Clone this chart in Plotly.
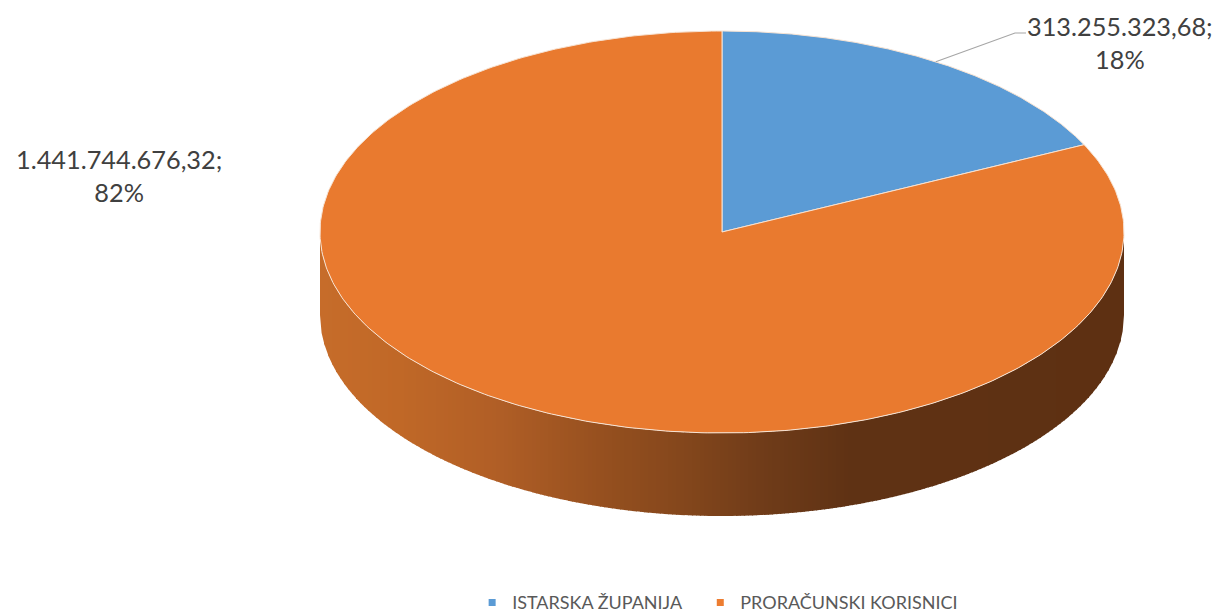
import numpy as np
import plotly.graph_objects as go

categories = ["ISTARSKA ŽUPANIJA", "PRORAČUNSKI KORISNICI"]
values = [313255323.68, 1441744676.32]
top_colors = ["#5B9BD5", "#E97A2F"]
legend_colors = ["#5B9BD5", "#ED7D31"]

# side wall shading (pixel x, colour)
wall_x = [320, 400, 500, 600, 680, 760, 850, 1125]
wall_rgb = [(198, 108, 42), (192, 104, 39), (176, 94, 38), (150, 80, 31),
            (133, 71, 28), (112, 60, 25), (95, 50, 20), (94, 48, 18)]

CX, CY, RX, RY, DEPTH = 722.0, 232.0, 402.0, 201.0, 83.0
W, H = 1220, 615


def ell(theta, dy=0.0):
    """Position on the ellipse; theta is clockwise from 12 o'clock, in radians."""
    return CX + RX * np.sin(theta), CY - RY * np.cos(theta) + dy


def fmt(v):
    s = f"{v:,.2f}"
    return s.replace(",", "X").replace(".", ",").replace("X", ".")


total = sum(values)
fractions = [v / total for v in values]
edges = np.cumsum([0.0] + fractions) * 2 * np.pi

fig = go.Figure()

# side wall: thin vertical strips between the lower rims
step = 4.0
xs = np.arange(CX - RX, CX + RX, step)
for x0 in xs:
    x1 = min(x0 + step + 0.8, CX + RX)
    seg = np.linspace(x0, x1, 4)
    yy = CY + RY * np.sqrt(np.clip(1 - ((seg - CX) / RX) ** 2, 0, 1))
    mid = x0 + step / 2
    rgb = [int(round(np.interp(mid, wall_x, [c[i] for c in wall_rgb]))) for i in range(3)]
    col = f"rgb({rgb[0]},{rgb[1]},{rgb[2]})"
    fig.add_trace(go.Scatter(
        x=np.concatenate([seg, seg[::-1]]),
        y=np.concatenate([yy, (yy + DEPTH)[::-1]]),
        mode="lines", fill="toself", fillcolor=col, line=dict(width=0),
        hoverinfo="skip", showlegend=False))

# top face, one wedge per value
for i, name in enumerate(categories):
    t = np.linspace(edges[i], edges[i + 1], 400)
    ex, ey = ell(t)
    fig.add_trace(go.Scatter(
        x=np.concatenate([[CX], ex, [CX]]), y=np.concatenate([[CY], ey, [CY]]),
        mode="lines", fill="toself", fillcolor=top_colors[i],
        line=dict(color="#F7E3D3", width=1), name=name,
        hovertemplate=f"{name}<br>{fmt(values[i])}<extra></extra>", showlegend=False))

# leader line for the first slice
lx, ly = ell((edges[0] + edges[1]) / 2)
fig.add_trace(go.Scatter(x=[lx, 1015, 1026], y=[ly, 33, 33], mode="lines",
                         line=dict(color="#A6A6A6", width=1.2),
                         hoverinfo="skip", showlegend=False))

# legend entries, one legend each so that their spacing can follow the reference
legend_ids = ["legend", "legend2"]
for name, col, lid in zip(categories, legend_colors, legend_ids):
    fig.add_trace(go.Scatter(x=[None], y=[None], mode="markers", name=name, legend=lid,
                             marker=dict(symbol="square", size=7, color=col)))

label_pos = [(1120, 42), (119, 175)]
for i, (x, y) in enumerate(label_pos):
    fig.add_annotation(x=x, y=y, xref="x", yref="y", showarrow=False,
                       text=f"{fmt(values[i])};<br>{round(fractions[i] * 100)}%",
                       align="center", xanchor="center", yanchor="middle",
                       font=dict(family="Lato", size=25.3, color="#404040"))

legend_font = dict(family="Lato", size=18, color="#595959")
fig.update_layout(
    width=W, height=H, autosize=False,
    margin=dict(l=0, r=0, t=0, b=0, autoexpand=False),
    paper_bgcolor="white", plot_bgcolor="white",
    xaxis=dict(range=[0, W], visible=False, fixedrange=True),
    yaxis=dict(range=[H, 0], visible=False, fixedrange=True),
    legend=dict(orientation="h", x=0.387, xanchor="left", y=0.05, yanchor="top",
                font=legend_font, bgcolor="rgba(0,0,0,0)"),
    legend2=dict(orientation="h", x=0.574, xanchor="left", y=0.05, yanchor="top",
                 font=legend_font, bgcolor="rgba(0,0,0,0)"),
)

fig.write_html("out.html", config=dict(displayModeBar=False),
               post_script="document.body.style.margin='0';")
